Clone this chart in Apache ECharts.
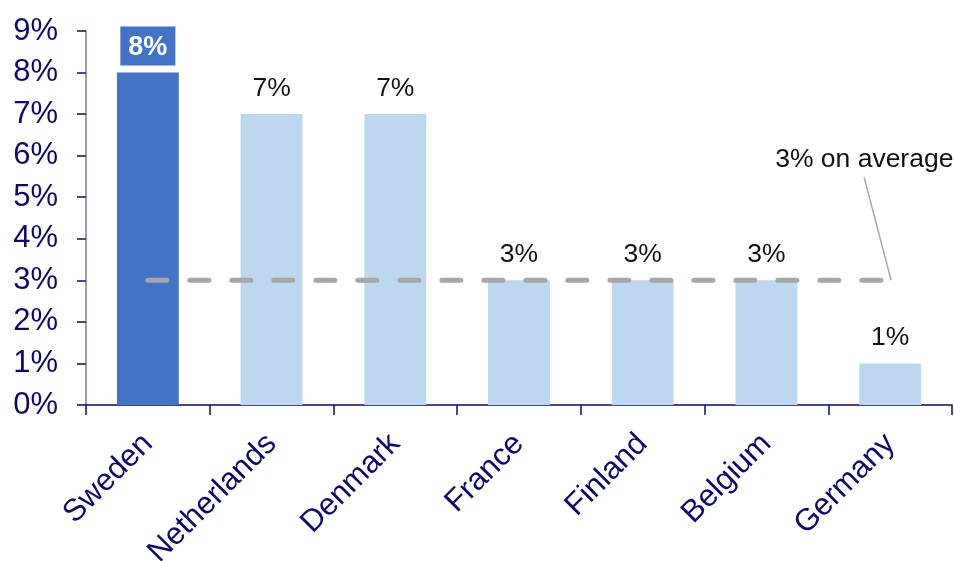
<!DOCTYPE html>
<html>
<head>
<meta charset="utf-8">
<script src="https://cdn.jsdelivr.net/npm/echarts@6/dist/echarts.min.js"></script>
<style>
  html, body { margin: 0; padding: 0; background: #fff; }
  #chart { width: 954px; height: 561px; }
</style>
</head>
<body>
<div id="chart"></div>
<script>
// Share by country, in percent
const countries = ['Sweden', 'Netherlands', 'Denmark', 'France', 'Finland', 'Belgium', 'Germany'];
const shares = [8, 7, 7, 3, 3, 3, 1];
const averageShare = 3;
const averageLabel = '3% on average';
const yTicks = [0, 9, 1]; // min, max, step

const navy = '#0b0b66';
const font = 'Arial, "Liberation Sans", sans-serif';

const chart = echarts.init(document.getElementById('chart'));

const barData = shares.map((v, i) => {
  if (i === 0) {
    return {
      value: v,
      itemStyle: { color: '#4472c4' },
      label: {
        color: '#fff',
        fontWeight: 'bold',
        fontSize: 27,
        backgroundColor: '#4472c4',
        padding: [7, 8, 5, 8],
        distance: 7
      }
    };
  }
  return { value: v, itemStyle: { color: '#bdd7ee' } };
});

chart.setOption({
  animation: false,
  grid: {
    left: 86, right: 2, top: 31, bottom: 156,
    containLabel: false,
    outerBoundsMode: 'none'
  },
  xAxis: {
    type: 'category',
    data: countries,
    axisLine: { lineStyle: { color: navy, width: 1.5 } },
    axisTick: { show: true, length: 10, lineStyle: { color: navy, width: 1.5 } },
    axisLabel: {
      rotate: 45,
      margin: 34,
      color: navy,
      fontSize: 31,
      fontFamily: font,
      interval: 0
    }
  },
  yAxis: {
    type: 'value',
    min: yTicks[0],
    max: yTicks[1],
    interval: yTicks[2],
    splitLine: { show: false },
    axisLine: { show: true, lineStyle: { color: '#7b7bab', width: 1.5 } },
    axisTick: { show: true, inside: false, length: 9, lineStyle: { color: navy, width: 1.5 } },
    axisLabel: {
      color: navy,
      fontSize: 31,
      fontFamily: font,
      margin: 28,
      formatter: v => v + '%'
    }
  },
  series: [
    {
      type: 'bar',
      data: barData,
      barWidth: '50%',
      label: {
        show: true,
        position: 'top',
        distance: 12,
        color: '#111',
        fontSize: 26.5,
        fontFamily: font,
        formatter: p => p.value + '%'
      },
      z: 2
    },
    {
      type: 'line',
      data: countries.map(() => averageShare),
      symbol: 'none',
      silent: true,
      lineStyle: { color: '#a6a6a6', width: 5, type: [19, 23], cap: 'round' },
      z: 3
    }
  ]
});

// Annotation text with a leader line down to the end of the average line
const end = chart.convertToPixel({ gridIndex: 0 }, [countries.length - 1, averageShare]);
chart.setOption({
  graphic: [
    {
      type: 'text',
      left: end[0] - 115,
      top: end[1] - 134,
      style: { text: averageLabel, fontSize: 26.5, fontFamily: font, fill: '#111' }
    },
    {
      type: 'line',
      shape: { x1: end[0] - 26, y1: end[1] - 103, x2: end[0] + 1, y2: end[1] },
      style: { stroke: '#a6a6a6', lineWidth: 1.5 }
    }
  ]
});
</script>
</body>
</html>
